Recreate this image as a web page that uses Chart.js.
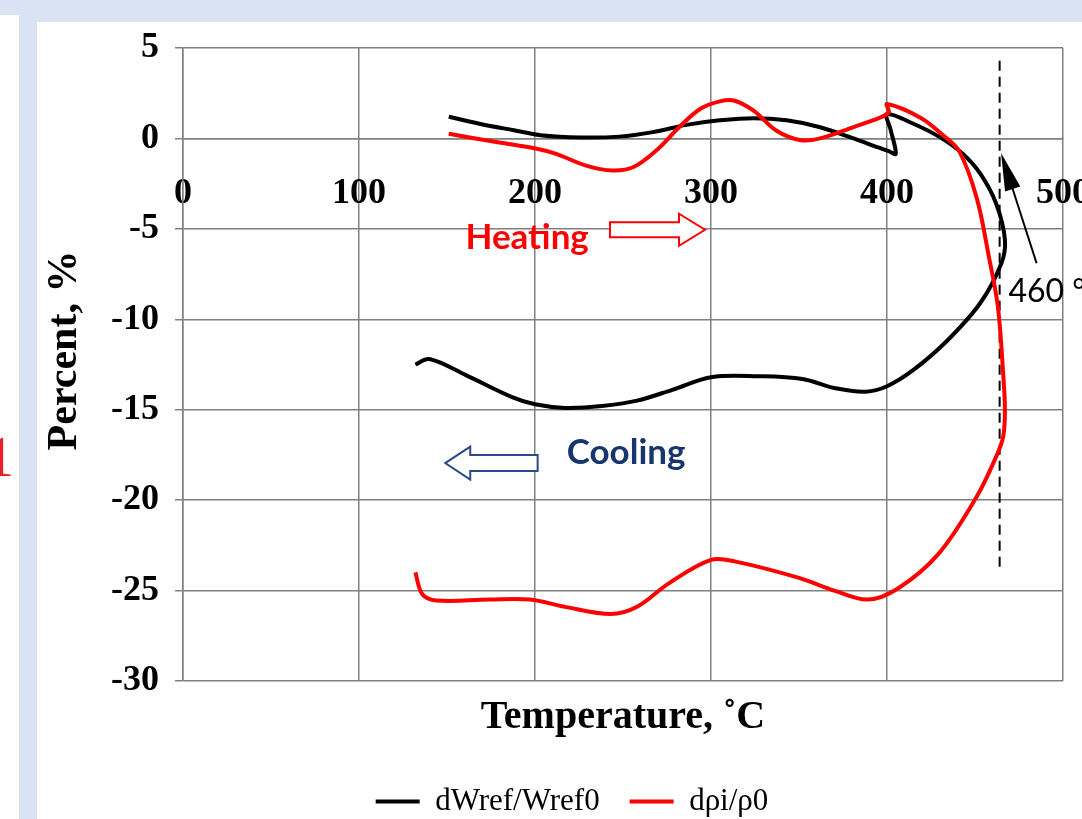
<!DOCTYPE html>
<html>
<head>
<meta charset="utf-8">
<script src="https://cdn.jsdelivr.net/npm/chart.js@4.4.1/dist/chart.umd.min.js"></script>
<style>
html, body { margin: 0; padding: 0; }
body { width: 1082px; height: 819px; overflow: hidden; background: #dae3f3; position: relative; }
#strip { position: absolute; left: 0; top: 15px; width: 19px; height: 810px; background: #fff; overflow: hidden; }
#strip span { position: absolute; right: 5px; top: 410px; font: 56px "Liberation Serif"; color: #e8202a; }
#panel { position: absolute; left: 37px; top: 22px; width: 1100px; height: 805px; background: #fff; }
</style>
</head>
<body>
<div id="strip"><span>1</span></div>
<div id="panel"><canvas id="chart" width="1100" height="805"></canvas></div>
<script>
// dWref/Wref0 : heating 150 -> 467 C, then cooling back to ~130 C
const wrefTemp = [151, 169, 188, 203, 226, 248, 267, 286, 305, 324, 343, 362, 381, 395, 401, 405, 402, 400, 415, 430,
                  443, 453, 462, 467, 465, 453, 434, 415, 400, 388, 370, 352, 327, 300, 278, 258, 238, 217, 200, 187,
                  161, 140, 132];
const wrefPct = [1.2, 0.8, 0.45, 0.18, 0.05, 0.1, 0.35, 0.75, 1.0, 1.12, 1.0, 0.62, 0.0, -0.5, -0.7, -0.85, 0.5, 1.35, 0.81, 0.07,
                 -0.85, -1.95, -3.6, -5.6, -6.9, -9.1, -11.2, -12.8, -13.7, -14.0, -13.8, -13.3, -13.15, -13.2, -13.9, -14.5, -14.8, -14.9, -14.7, -14.3,
                 -13.1, -12.2, -12.5];

// dρi/ρ0
const rhoTemp = [151, 178, 201, 212, 229, 244, 256, 269, 282, 294, 305, 313, 324, 337, 351, 362, 381, 396, 401, 400,
                 419, 431, 441, 451, 458, 463, 466, 467, 466, 462, 451, 429, 406, 389, 370, 350, 314, 300, 276, 258,
                 243, 217, 197, 174, 144, 136, 132];
const rhoPct = [0.26, -0.2, -0.57, -0.85, -1.5, -1.77, -1.58, -0.66, 0.63, 1.64, 2.05, 2.1, 1.55, 0.44, -0.1, 0.0, 0.63, 1.15, 1.45, 1.9,
                1.15, 0.25, -0.7, -3.3, -6.6, -9.3, -13.0, -15.0, -16.5, -17.6, -19.8, -23.0, -24.9, -25.5, -25.0, -24.3, -23.4, -23.3, -24.6, -25.9,
                -26.3, -25.9, -25.5, -25.5, -25.55, -25.2, -24.0];

// dashed marker at the peak temperature
const peakTemp = [464, 464];
const peakPct = [4.3, -24];

const seriesNames = ['dWref/Wref0', 'dρi/ρ0'];

function pts(xs, ys) {
    return xs.map((v, i) => ({ x: v, y: ys[i] }));
}

function blockArrow(ctx, x0, x1, yc, shaft, head, headLen, color) {
    const d = Math.sign(x1 - x0);
    const xb = x1 - d * headLen;
    ctx.beginPath();
    ctx.moveTo(x0, yc - shaft / 2);
    ctx.lineTo(xb, yc - shaft / 2);
    ctx.lineTo(xb, yc - head / 2);
    ctx.lineTo(x1, yc);
    ctx.lineTo(xb, yc + head / 2);
    ctx.lineTo(xb, yc + shaft / 2);
    ctx.lineTo(x0, yc + shaft / 2);
    ctx.closePath();
    ctx.fillStyle = '#fff';
    ctx.fill();
    ctx.lineWidth = 2;
    ctx.strokeStyle = color;
    ctx.stroke();
}

// labels, arrows and the rotated y title
const notes = {
    id: 'notes',
    afterDatasetsDraw(chart) {
        const { ctx, chartArea } = chart;
        const x = chart.scales.x, y = chart.scales.y;
        ctx.save();

        // Heating
        ctx.font = 'bold 35px Lato';
        ctx.fillStyle = '#ff0000';
        ctx.textBaseline = 'middle';
        ctx.textAlign = 'left';
        ctx.fillText('Heating', x.getPixelForValue(160.5), y.getPixelForValue(-5.5));
        blockArrow(ctx, x.getPixelForValue(242.6), x.getPixelForValue(296.6), y.getPixelForValue(-5.05), 15, 32, 26, '#ff0000');

        // Cooling
        ctx.fillStyle = '#17366e';
        ctx.fillText('Cooling', x.getPixelForValue(218), y.getPixelForValue(-17.4));
        blockArrow(ctx, x.getPixelForValue(201.5), x.getPixelForValue(149), y.getPixelForValue(-17.95), 16, 33, 25, '#2a4a8a');

        // 460 °C label with arrow
        ctx.font = '32px Lato';
        ctx.fillStyle = '#000';
        ctx.fillText('460 °C', x.getPixelForValue(469), y.getPixelForValue(-8.5));
        const tx = x.getPixelForValue(464.8), ty = y.getPixelForValue(-0.8);
        const sx = x.getPixelForValue(485), sy = y.getPixelForValue(-6.9);
        const ang = Math.atan2(ty - sy, tx - sx);
        ctx.strokeStyle = '#000';
        ctx.lineWidth = 2;
        ctx.beginPath();
        ctx.moveTo(sx, sy);
        ctx.lineTo(tx - 20 * Math.cos(ang), ty - 20 * Math.sin(ang));
        ctx.stroke();
        ctx.beginPath();
        ctx.moveTo(tx, ty);
        ctx.lineTo(tx - 38 * Math.cos(ang) + 8 * Math.sin(ang), ty - 38 * Math.sin(ang) - 8 * Math.cos(ang));
        ctx.lineTo(tx - 38 * Math.cos(ang) - 8 * Math.sin(ang), ty - 38 * Math.sin(ang) + 8 * Math.cos(ang));
        ctx.closePath();
        ctx.fill();

        // y title
        ctx.translate(28, (chartArea.top + chartArea.bottom) / 2 - 14);
        ctx.rotate(-Math.PI / 2);
        ctx.font = 'bold 42px "Liberation Serif"';
        ctx.textAlign = 'center';
        ctx.fillText('Percent, %', 0, 0);
        ctx.restore();
    }
};

const tickFont = { family: 'Liberation Serif', weight: 'bold', size: 36 };

new Chart(document.getElementById('chart'), {
    type: 'scatter',
    data: {
        datasets: [
            { label: seriesNames[0], data: pts(wrefTemp, wrefPct), showLine: true, borderColor: '#000', backgroundColor: '#000',
              borderWidth: 4, pointRadius: 0, tension: 0.35, order: 2 },
            { label: seriesNames[1], data: pts(rhoTemp, rhoPct), showLine: true, borderColor: '#ff0000', backgroundColor: '#ff0000',
              borderWidth: 4, pointRadius: 0, tension: 0.35, order: 1 },
            { label: 'peak', data: pts(peakTemp, peakPct), showLine: true, borderColor: '#000', backgroundColor: '#000',
              borderWidth: 2, borderDash: [10, 6], pointRadius: 0, order: 3 }
        ]
    },
    options: {
        responsive: false,
        animation: false,
        devicePixelRatio: 1,
        layout: { padding: { left: 44, right: 74, top: 26, bottom: 0 } },
        scales: {
            x: {
                type: 'linear', position: { y: 0 }, min: 0, max: 500,
                ticks: { stepSize: 100, padding: 34, color: '#000', font: tickFont },
                grid: { color: '#808080', lineWidth: 1.5, drawTicks: false },
                border: { color: '#808080', width: 1.5 }
            },
            y: {
                min: -30, max: 5,
                ticks: { stepSize: 5, padding: 16, color: '#000', font: tickFont },
                grid: { color: '#808080', lineWidth: 1.5, tickLength: 8 },
                border: { color: '#808080', width: 1.5 },
                afterFit(s) { s.width = 102; s.paddingTop = 0; s.paddingBottom = 0; }
            }
        },
        plugins: {
            legend: {
                position: 'bottom',
                labels: {
                    boxWidth: 44, boxHeight: 4, padding: 30, color: '#000',
                    font: { family: 'Liberation Serif', size: 31 },
                    generateLabels(chart) {
                        return Chart.defaults.plugins.legend.labels.generateLabels(chart)
                            .filter(i => i.datasetIndex < 2)
                            .sort((a, b) => a.datasetIndex - b.datasetIndex)
                            .map(i => Object.assign(i, { lineWidth: 0 }));
                    }
                }
            },
            title: {
                display: true, position: 'bottom', fullSize: false, weight: 500,
                text: 'Temperature, ˚C', color: '#000',
                font: { family: 'Liberation Serif', weight: 'bold', size: 40 },
                padding: { top: 13, bottom: 14 }
            },
            tooltip: { enabled: false }
        }
    },
    plugins: [notes]
});
</script>
</body>
</html>
